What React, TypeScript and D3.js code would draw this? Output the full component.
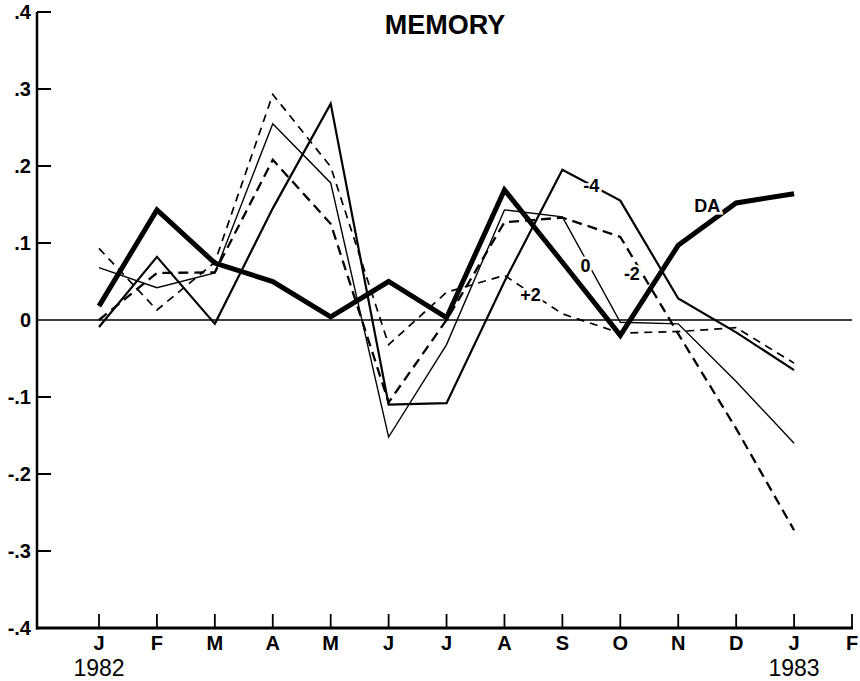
import * as d3 from "d3";

// months from Jan 1982 to Feb 1983
const months = ["J", "F", "M", "A", "M", "J", "J", "A", "S", "O", "N", "D", "J", "F"];
const yTicks = [0.4, 0.3, 0.2, 0.1, 0, -0.1, -0.2, -0.3, -0.4];
const yTickLabels = [".4", ".3", ".2", ".1", "0", "-.1", "-.2", "-.3", "-.4"];

// one value per month, Jan 82 .. Jan 83
const da = [0.018, 0.143, 0.074, 0.05, 0.004, 0.05, 0.003, 0.169, 0.075, -0.02, 0.097, 0.152, 0.164];
const lagMinus4 = [-0.009, 0.082, -0.005, 0.145, 0.281, -0.11, -0.108, 0.05, 0.195, 0.155, 0.028, -0.016, -0.065];
const lag0 = [0.068, 0.042, 0.061, 0.255, 0.178, -0.152, -0.032, 0.143, 0.134, -0.003, -0.005, -0.08, -0.16];
const lagMinus2 = [0.0, 0.061, 0.062, 0.208, 0.125, -0.107, 0.0, 0.127, 0.133, 0.108, -0.018, -0.141, -0.273];
const lagPlus2 = [0.093, 0.013, 0.075, 0.293, 0.199, -0.032, 0.036, 0.058, 0.008, -0.017, -0.015, -0.01, -0.056];

const series = [
  { name: "+2", values: lagPlus2, width: 1.7, dash: "8,6" },
  { name: "-2", values: lagMinus2, width: 2.3, dash: "10,6" },
  { name: "0", values: lag0, width: 1.4, dash: null },
  { name: "-4", values: lagMinus4, width: 2.2, dash: null },
  { name: "DA", values: da, width: 5, dash: null },
];

// where the curve names sit (month index, value)
const seriesLabels = [
  { text: "-4", m: 8.5, v: 0.174 },
  { text: "DA", m: 10.5, v: 0.148 },
  { text: "0", m: 8.4, v: 0.07 },
  { text: "-2", m: 9.2, v: 0.06 },
  { text: "+2", m: 7.45, v: 0.032 },
];

const W = 860;
const H = 681;
const font = "'Liberation Sans', Arial, Helvetica, sans-serif";

export default function App() {
  const x = d3.scaleLinear().domain([0, months.length - 1]).range([99, 852]);
  const y = d3.scaleLinear().domain([-0.4, 0.4]).range([628, 12]);
  const axisX = 37;

  const lineGen = d3
    .line<number>()
    .x((_, i) => x(i))
    .y((v) => y(v));

  return (
    <svg
      width={W}
      height={H}
      style={{ position: "absolute", left: 0, top: 0, background: "#fff" }}
      fontFamily={font}
    >
      <rect width={W} height={H} fill="#fff" />

      {/* title */}
      <text x={445} y={34} textAnchor="middle" fontSize={27} fontWeight="bold">
        MEMORY
      </text>

      {/* zero line */}
      <line x1={axisX} x2={x(13)} y1={y(0)} y2={y(0)} stroke="#000" strokeWidth={1.6} />

      {/* y axis */}
      <line x1={axisX} x2={axisX} y1={y(0.4)} y2={y(-0.4) + 1.5} stroke="#000" strokeWidth={2.5} />
      {yTicks.map((t, i) => (
        <g key={"yt" + i}>
          {t !== 0 && t !== -0.4 && (
            <line x1={axisX} x2={axisX + 14} y1={y(t)} y2={y(t)} stroke="#000" strokeWidth={2} />
          )}
          <text x={31} y={y(t) + 7} textAnchor="end" fontSize={20} fontWeight="bold">
            {yTickLabels[i]}
          </text>
        </g>
      ))}

      {/* x axis */}
      <line x1={axisX - 1} x2={x(13) + 1} y1={y(-0.4)} y2={y(-0.4)} stroke="#000" strokeWidth={3} />
      {months.map((m, i) => (
        <g key={"xt" + i}>
          <line x1={x(i)} x2={x(i)} y1={y(-0.4)} y2={y(-0.4) - 14} stroke="#000" strokeWidth={1.8} />
          <text x={x(i)} y={650} textAnchor="middle" fontSize={20} fontWeight="bold">
            {m}
          </text>
        </g>
      ))}
      <text x={x(0)} y={676} textAnchor="middle" fontSize={23}>
        1982
      </text>
      <text x={x(12)} y={676} textAnchor="middle" fontSize={23}>
        1983
      </text>

      {/* series */}
      {series.map((s) => (
        <path
          key={s.name}
          d={lineGen(s.values) || ""}
          fill="none"
          stroke="#000"
          strokeWidth={s.width}
          strokeDasharray={s.dash || undefined}
          strokeLinejoin="miter"
        />
      ))}

      {/* curve labels */}
      {seriesLabels.map((l) => (
        <text
          key={l.text}
          x={x(l.m)}
          y={y(l.v) + 6}
          textAnchor="middle"
          fontSize={18}
          fontWeight="bold"
          stroke="#fff"
          strokeWidth={5}
          paintOrder="stroke"
        >
          {l.text}
        </text>
      ))}
    </svg>
  );
}
